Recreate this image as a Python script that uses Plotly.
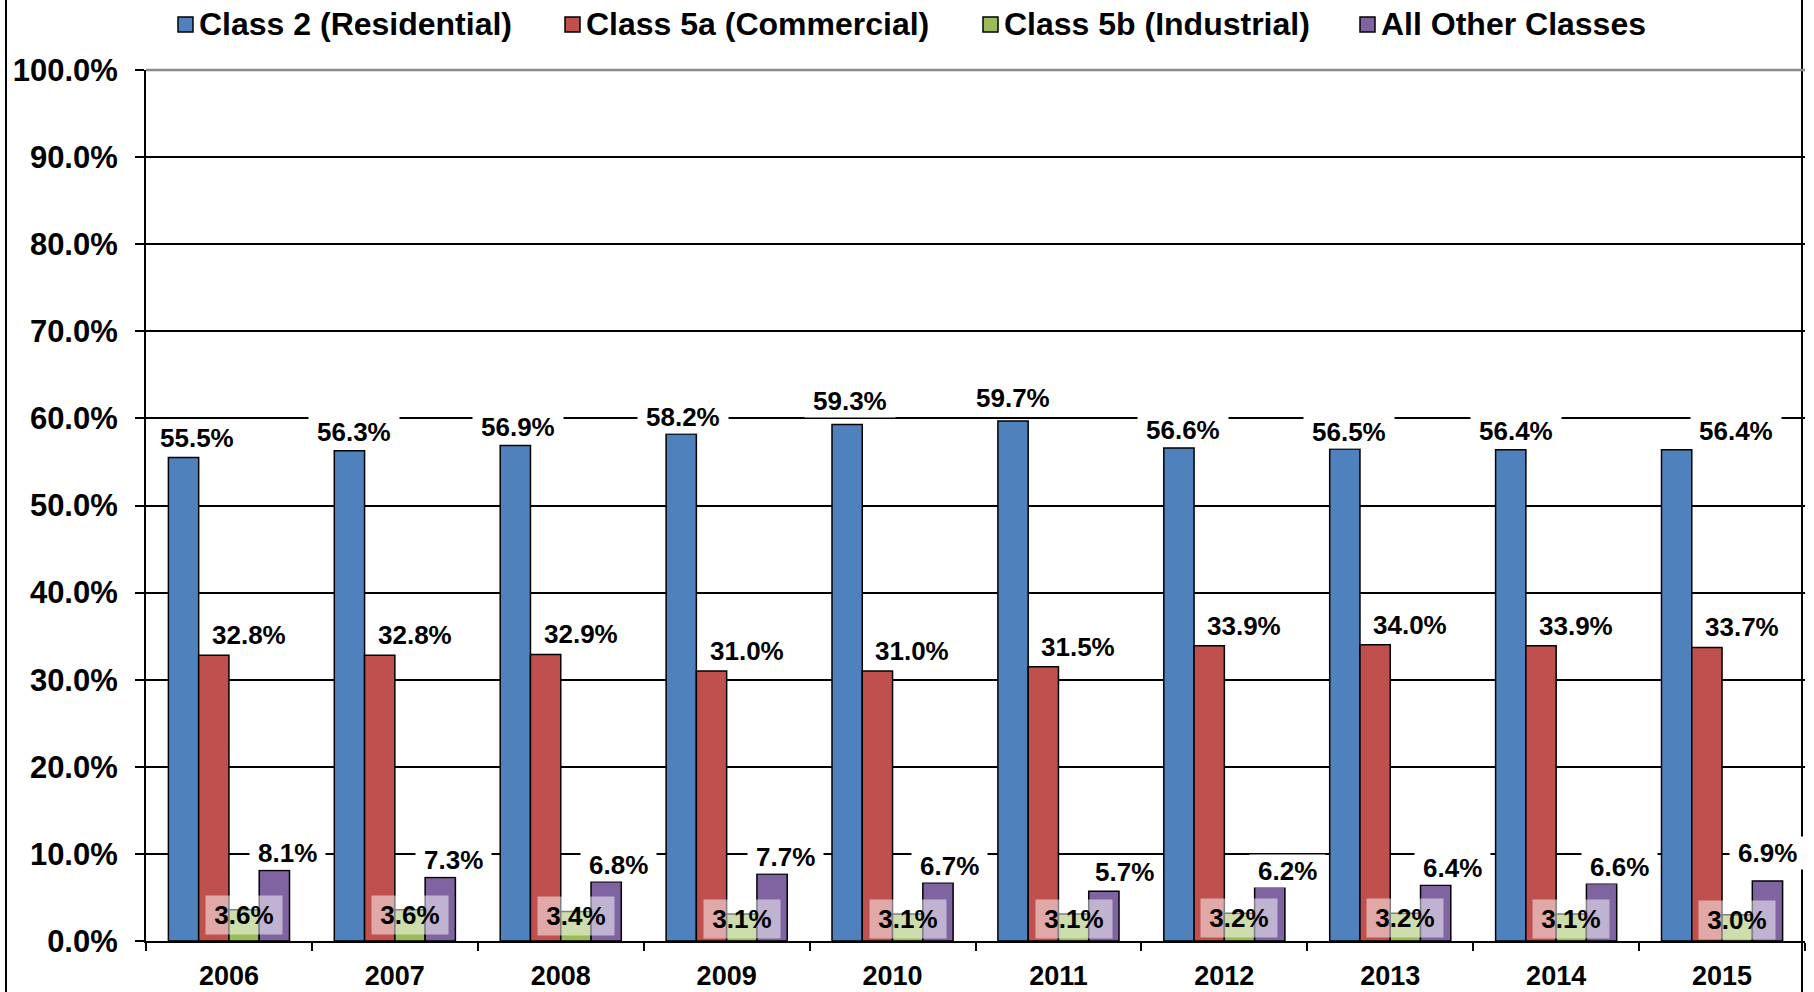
import plotly.graph_objects as go

YEARS = ["2006", "2007", "2008", "2009", "2010", "2011", "2012", "2013", "2014", "2015"]
RESIDENTIAL = [55.5, 56.3, 56.9, 58.2, 59.3, 59.7, 56.6, 56.5, 56.4, 56.4]
COMMERCIAL = [32.8, 32.8, 32.9, 31.0, 31.0, 31.5, 33.9, 34.0, 33.9, 33.7]
INDUSTRIAL = [3.6, 3.6, 3.4, 3.1, 3.1, 3.1, 3.2, 3.2, 3.1, 3.0]
OTHER = [8.1, 7.3, 6.8, 7.7, 6.7, 5.7, 6.2, 6.4, 6.6, 6.9]

SERIES = [
    ("Class 2 (Residential)", RESIDENTIAL, "#4F81BD"),
    ("Class 5a (Commercial)", COMMERCIAL, "#C0504D"),
    ("Class 5b (Industrial)", INDUSTRIAL, "#9BBB59"),
    ("All Other Classes", OTHER, "#8064A2"),
]

FONT = "Liberation Sans, Arial, sans-serif"
W, H = 1814, 992
M_L, M_R, M_T, M_B = 146, 9, 70, 51
BARGAP = 0.27
LABEL_SIZE = 26

# legend drawn by hand: symbol left edge (px) for each entry, row centre y (px)
LEGEND_X = [178, 565, 983, 1360]
LEGEND_Y = 24.5
LEGEND_BOX = 15

# label nudges in px (x right, y up), per series, per year
LABEL_DX = [
    [13, 5, 3, 2, 3, 0, 4, 4, 5, 59],
    [35] * 10,
    [0] * 10,
    [13, 13, 12, 13, 12, 21, 18, 17, 18, 0],
]
LABEL_DY = [
    [20, 19, 18, 17, 24, 23, 18, 17, 19, 19],
    [20] * 10,
    [-5] * 10,
    [17, 17, 17, 17, 17, 19, 16, 17, 17, 28],
]

plot_w = W - M_L - M_R
plot_h = H - M_T - M_B
cat_w = plot_w / len(YEARS)
bar_w = cat_w * (1 - BARGAP) / len(SERIES)


def px_x(px):
    return (px - M_L) / plot_w


def px_y(py):
    return (H - M_B - py) / plot_h


def text_width(s, size):
    # rough Arial-bold advance widths
    w = {".": 0.278, "%": 0.889}
    return size * sum(w.get(c, 0.556) for c in s)


fig = go.Figure()
for name, vals, color in SERIES:
    fig.add_trace(
        go.Bar(
            x=YEARS,
            y=vals,
            name=name,
            showlegend=False,
            marker=dict(color=color, line=dict(color="black", width=1.5)),
            hoverinfo="skip",
        )
    )

annotations = []
for si, (name, vals, color) in enumerate(SERIES):
    offset = (si - (len(SERIES) - 1) / 2) * bar_w
    is_green = si == 2
    for yi, v in enumerate(vals):
        txt = f"{v:.1f}%"
        annotations.append(
            dict(
                x=yi,  # category index
                y=v,
                xref="x",
                yref="y",
                text=txt,
                showarrow=False,
                xshift=offset + LABEL_DX[si][yi],
                yshift=LABEL_DY[si][yi],
                yanchor="middle",
                font=dict(family=FONT, size=LABEL_SIZE, color="black", weight="bold"),
                bgcolor="rgba(255,255,255,0.5)" if is_green else "white",
                width=72 if is_green else text_width(txt, LABEL_SIZE) + 12,
                height=34 if is_green else 28,
                borderpad=2,
            )
        )

fx0 = px_x(6)
fx1 = px_x(1802)
shapes = [
    dict(type="line", xref="paper", yref="paper", x0=fx0, x1=fx0, y0=-0.2, y1=1.2,
         line=dict(color="black", width=2)),
    dict(type="line", xref="paper", yref="paper", x0=fx1, x1=fx1, y0=-0.2, y1=1.2,
         line=dict(color="black", width=2)),
    # grey top border of the plot area
    dict(type="line", xref="paper", yref="paper", x0=0, x1=1, y0=1, y1=1,
         line=dict(color="#8a8a8a", width=2.5)),
]

for (name, vals, color), lx in zip(SERIES, LEGEND_X):
    shapes.append(
        dict(
            type="rect",
            xref="paper",
            yref="paper",
            x0=px_x(lx),
            x1=px_x(lx + LEGEND_BOX),
            y0=px_y(LEGEND_Y - LEGEND_BOX / 2),
            y1=px_y(LEGEND_Y + LEGEND_BOX / 2),
            fillcolor=color,
            line=dict(color="black", width=1.5),
        )
    )
    annotations.append(
        dict(
            x=px_x(lx + LEGEND_BOX + 4),
            y=px_y(LEGEND_Y),
            xref="paper",
            yref="paper",
            xanchor="left",
            yanchor="middle",
            text=name,
            showarrow=False,
            font=dict(family=FONT, size=32, color="black", weight="bold"),
        )
    )

fig.update_layout(
    width=W,
    height=H,
    margin=dict(l=M_L, r=M_R, t=M_T, b=M_B, autoexpand=False),
    paper_bgcolor="white",
    plot_bgcolor="white",
    barmode="group",
    bargap=BARGAP,
    bargroupgap=0,
    font=dict(family=FONT, color="black"),
    showlegend=False,
    annotations=annotations,
    shapes=shapes,
)
fig.update_xaxes(
    type="category",
    range=[-0.5, len(YEARS) - 0.5],
    automargin=False,
    showline=True,
    linecolor="black",
    linewidth=2,
    ticks="outside",
    tickson="boundaries",
    ticklen=8,
    tickwidth=2,
    tickcolor="black",
    showgrid=False,
    tickangle=0,
    ticklabelstandoff=10,
    tickfont=dict(family=FONT, size=27, color="black", weight="bold"),
)
fig.update_yaxes(
    range=[0, 100],
    dtick=10,
    tick0=0,
    tickformat=".1f",
    ticksuffix="%",
    automargin=False,
    showline=True,
    linecolor="black",
    linewidth=2,
    ticks="outside",
    ticklen=9,
    tickwidth=2,
    tickcolor="black",
    showgrid=True,
    gridcolor="black",
    gridwidth=1.5,
    zeroline=False,
    ticklabelstandoff=11,
    tickfont=dict(family=FONT, size=31, color="black", weight="bold"),
)

fig.write_html(
    "out.html",
    config={"displayModeBar": False},
    post_script="document.body.style.margin='0';",
)
